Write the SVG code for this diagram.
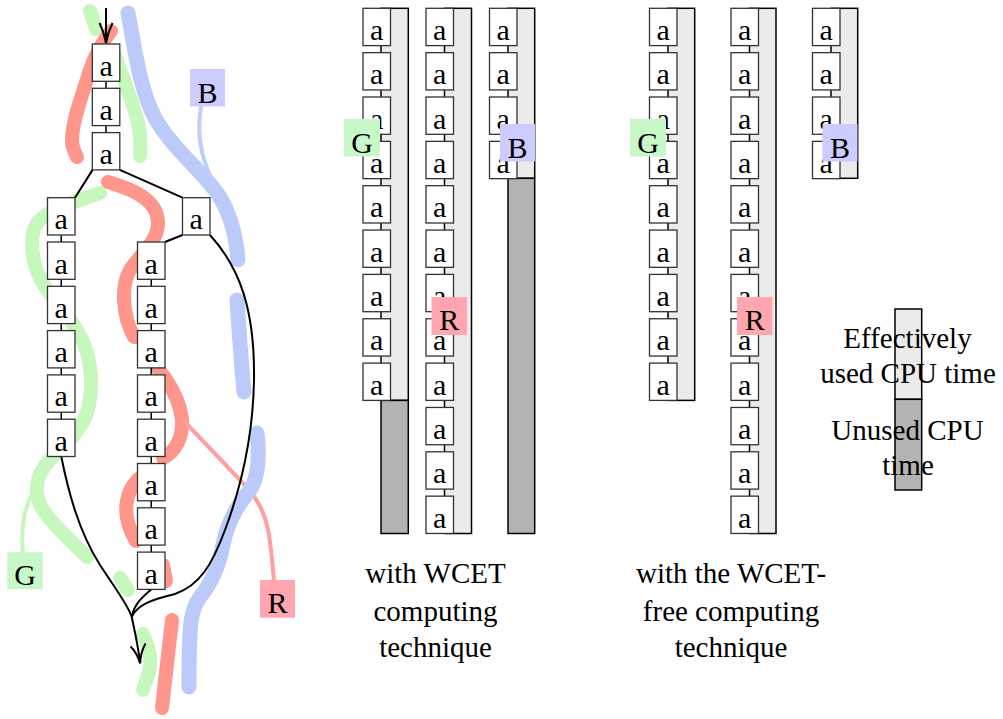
<svg xmlns="http://www.w3.org/2000/svg" width="1003" height="719" viewBox="0 0 1003 719">
<style>
text{font-family:"Liberation Serif","Times New Roman",serif;font-size:29px;fill:#000;text-anchor:middle}
.box{fill:#fff;stroke:#333;stroke-width:1.3}
.box + text,.lbl{font-size:30px}
.lt{fill:#ebebeb;stroke:#000;stroke-width:1.5}
.dk{fill:#b3b3b3;stroke:#000;stroke-width:1.5}
.hg{fill:none;stroke:#c6f7bd;stroke-width:14;stroke-linecap:round}
.hr{fill:none;stroke:#ff968b;stroke-width:14;stroke-linecap:round}
.hb{fill:none;stroke:#bccafa;stroke-width:15;stroke-linecap:round}
.tg{fill:none;stroke:#c6f7bd;stroke-width:4;stroke-linecap:round}
.tr{fill:none;stroke:#ffa0a0;stroke-width:4;stroke-linecap:round}
.tb{fill:none;stroke:#c0ccfc;stroke-width:4;stroke-linecap:round}
.ed{fill:none;stroke:#000;stroke-width:2}
.ln{stroke:#000;stroke-width:1.5}
.lg{fill:#c8f7c8}.lb{fill:#ccccff}.lr{fill:#ffa6b0}
</style>
<defs>
<g id="bx"><rect class="box" x="0" y="0" width="27.5" height="37.3"/><text class="lbl" x="13.75" y="31.5">a</text></g>
</defs>

<!-- highlight strokes (left diagram) -->
<g id="highlights">
<path class="hg" d="M 90 11 L 96 29"/>
<path class="hg" d="M 113 50 C 120 70, 130 95, 136 115 C 141 132, 141 145, 140 156"/>
<path class="hg" d="M 100 193 C 75 202, 50 208, 38 222 C 28 235, 32 262, 40 278 C 50 298, 65 310, 78 332 C 90 352, 95 380, 88 410 C 82 430, 65 445, 50 460 C 35 475, 32 495, 45 513 C 58 530, 75 545, 87 557"/>
<path class="tg" d="M 34 490 C 26 505, 20 522, 23 553"/>
<path class="hg" d="M 120 578 L 128 590"/>
<path class="hg" d="M 143 634 C 150 650, 153 662, 148 675 C 146 682, 144 686, 143 690"/>
<path class="hr" d="M 111 31 C 100 45, 95 55, 90 70 C 84 90, 72 120, 72 140 C 72 148, 75 153, 77 157"/>
<path class="hr" d="M 108 182 C 135 190, 157 200, 158 222 C 159 240, 140 255, 130 270 C 121 285, 122 315, 134 337"/>
<path class="hr" d="M 157 368 C 168 380, 180 400, 182 420 C 183 438, 175 452, 163 458"/>
<path class="hr" d="M 141 477 C 125 490, 120 515, 136 541"/>
<path class="hr" d="M 163 565 L 166 581"/>
<path class="hr" d="M 172 620 L 162 708"/>
<path class="tr" d="M 184 421 L 240 480 C 255 495, 265 510, 269 535 C 272 555, 273 570, 274 582"/>
<path class="hb" d="M 128 13 C 135 50, 140 90, 155 118 C 170 145, 200 170, 215 190 C 230 210, 236 235, 238 260"/>
<path class="tb" d="M 201 107 C 197 130, 200 150, 207 168 C 211 178, 214 184, 217 188"/>
<path class="hb" d="M 237 300 C 239 330, 241 360, 244 392"/>
<path class="hb" d="M 257 433 C 260 460, 258 478, 250 490 C 238 505, 228 520, 223 545 C 218 570, 210 585, 200 597 C 190 610, 189 625, 189 687"/>
</g>

<!-- connectors -->
<g id="connectors">
<path class="ed" d="M 106 8 L 106 42"/>
<path class="ed" d="M 99.5 23 Q 104 32 106 43 Q 108 32 112.5 23"/>
<line class="ln" x1="106" y1="81.3" x2="106" y2="88.3"/>
<line class="ln" x1="106" y1="125.6" x2="106" y2="132.6"/>
<path class="ed" d="M 92.6 169.9 L 75 197.7"/>
<path class="ed" d="M 119.8 169.9 L 182.5 197.7"/>
<path class="ed" d="M 182.5 235 L 165 242"/>
<line class="ln" x1="61.25" y1="235" x2="61.25" y2="242"/>
<line class="ln" x1="61.25" y1="279.3" x2="61.25" y2="286.3"/>
<line class="ln" x1="61.25" y1="323.6" x2="61.25" y2="330.6"/>
<line class="ln" x1="61.25" y1="367.9" x2="61.25" y2="374.9"/>
<line class="ln" x1="61.25" y1="412.2" x2="61.25" y2="419.2"/>
<line class="ln" x1="151.25" y1="279.3" x2="151.25" y2="286.3"/>
<line class="ln" x1="151.25" y1="323.6" x2="151.25" y2="330.6"/>
<line class="ln" x1="151.25" y1="367.9" x2="151.25" y2="374.9"/>
<line class="ln" x1="151.25" y1="412.2" x2="151.25" y2="419.2"/>
<line class="ln" x1="151.25" y1="456.5" x2="151.25" y2="463.5"/>
<line class="ln" x1="151.25" y1="500.8" x2="151.25" y2="507.8"/>
<line class="ln" x1="151.25" y1="545.1" x2="151.25" y2="552.1"/>
<path class="ed" d="M 210 235 C 240 268, 255 310, 254 380 C 253 440, 240 490, 225 530 C 212 565, 200 585, 175 594 C 150 600, 138 605, 131.7 616.7"/>
<path class="ed" d="M 61.25 456.5 C 68 490, 78 530, 100 565 C 115 588, 128 605, 131.7 616.7"/>
<path class="ed" d="M 151.25 589.4 C 145 595, 135 602, 131.7 616.7"/>
<path class="ed" d="M 131.7 616.7 C 134 628, 138 645, 140 662"/>
<path class="ed" d="M 130.5 646.5 Q 136.5 652 140.2 663.5 Q 140.5 652 145.5 643.5"/>
</g>

<!-- left diagram nodes -->
<g id="top-chain">
<use href="#bx" x="92.3" y="44"/>
<use href="#bx" x="92.3" y="88.3"/>
<use href="#bx" x="92.3" y="132.6"/>
</g>
<g id="left-chain">
<use href="#bx" x="47.5" y="197.7"/>
<use href="#bx" x="47.5" y="242"/>
<use href="#bx" x="47.5" y="286.3"/>
<use href="#bx" x="47.5" y="330.6"/>
<use href="#bx" x="47.5" y="374.9"/>
<use href="#bx" x="47.5" y="419.2"/>
</g>
<g id="right-node"><use href="#bx" x="182.5" y="197.7"/></g>
<g id="middle-chain">
<use href="#bx" x="137.5" y="242"/>
<use href="#bx" x="137.5" y="286.3"/>
<use href="#bx" x="137.5" y="330.6"/>
<use href="#bx" x="137.5" y="374.9"/>
<use href="#bx" x="137.5" y="419.2"/>
<use href="#bx" x="137.5" y="463.5"/>
<use href="#bx" x="137.5" y="507.8"/>
<use href="#bx" x="137.5" y="552.1"/>
</g>
<g id="label-B-left"><rect class="lb" x="190" y="69" width="35" height="37.5"/><text class="lbl" x="207.5" y="102.5">B</text></g>
<g id="label-G-left"><rect class="lg" x="7.3" y="552.3" width="35.4" height="37"/><text class="lbl" x="25" y="585">G</text></g>
<g id="label-R-left"><rect class="lr" x="260" y="580" width="35" height="37.7"/><text class="lbl" x="277.5" y="612.7">R</text></g>

<!-- WCET columns -->
<g id="col1">
<rect class="lt" x="381" y="8.3" width="27.3" height="392.1"/>
<rect class="dk" x="381" y="400.4" width="27.3" height="133.1"/>
<use href="#bx" x="363" y="8.3"/><use href="#bx" x="363" y="52.65"/><use href="#bx" x="363" y="97"/>
<use href="#bx" x="363" y="141.35"/><use href="#bx" x="363" y="185.7"/><use href="#bx" x="363" y="230.05"/>
<use href="#bx" x="363" y="274.4"/><use href="#bx" x="363" y="318.75"/><use href="#bx" x="363" y="363.1"/>
</g>
<g id="col2">
<rect class="lt" x="444.5" y="8.3" width="27" height="525.2"/>
<use href="#bx" x="426" y="8.3"/><use href="#bx" x="426" y="52.65"/><use href="#bx" x="426" y="97"/>
<use href="#bx" x="426" y="141.35"/><use href="#bx" x="426" y="185.7"/><use href="#bx" x="426" y="230.05"/>
<use href="#bx" x="426" y="274.4"/><use href="#bx" x="426" y="318.75"/><use href="#bx" x="426" y="363.1"/>
<use href="#bx" x="426" y="407.45"/><use href="#bx" x="426" y="451.8"/><use href="#bx" x="426" y="496.15"/>
</g>
<g id="col3">
<rect class="lt" x="508" y="8.3" width="26.7" height="170"/>
<rect class="dk" x="508" y="178.3" width="26.7" height="355.2"/>
<use href="#bx" x="489.5" y="8.3"/><use href="#bx" x="489.5" y="52.65"/><use href="#bx" x="489.5" y="97"/>
<use href="#bx" x="489.5" y="141.35"/>
</g>
<g id="label-G-1"><rect class="lg" x="344" y="119" width="36" height="37.5"/><text class="lbl" x="362" y="152.5">G</text></g>
<g id="label-B-1"><rect class="lb" x="500" y="124" width="35" height="37.5"/><text class="lbl" x="517.5" y="158">B</text></g>
<g id="label-R-1"><rect class="lr" x="431.5" y="297" width="35.5" height="38"/><text class="lbl" x="449.3" y="330">R</text></g>

<!-- WCET-free columns -->
<g id="col4">
<rect class="lt" x="668" y="8.3" width="26.7" height="392.1"/>
<use href="#bx" x="649.5" y="8.3"/><use href="#bx" x="649.5" y="52.65"/><use href="#bx" x="649.5" y="97"/>
<use href="#bx" x="649.5" y="141.35"/><use href="#bx" x="649.5" y="185.7"/><use href="#bx" x="649.5" y="230.05"/>
<use href="#bx" x="649.5" y="274.4"/><use href="#bx" x="649.5" y="318.75"/><use href="#bx" x="649.5" y="363.1"/>
</g>
<g id="col5">
<rect class="lt" x="749.5" y="8.3" width="26.5" height="525.2"/>
<use href="#bx" x="731" y="8.3"/><use href="#bx" x="731" y="52.65"/><use href="#bx" x="731" y="97"/>
<use href="#bx" x="731" y="141.35"/><use href="#bx" x="731" y="185.7"/><use href="#bx" x="731" y="230.05"/>
<use href="#bx" x="731" y="274.4"/><use href="#bx" x="731" y="318.75"/><use href="#bx" x="731" y="363.1"/>
<use href="#bx" x="731" y="407.45"/><use href="#bx" x="731" y="451.8"/><use href="#bx" x="731" y="496.15"/>
</g>
<g id="col6">
<rect class="lt" x="831" y="8.3" width="26.7" height="170"/>
<use href="#bx" x="812.5" y="8.3"/><use href="#bx" x="812.5" y="52.65"/><use href="#bx" x="812.5" y="97"/>
<use href="#bx" x="812.5" y="141.35"/>
</g>
<g id="label-G-2"><rect class="lg" x="630" y="119" width="36" height="37.5"/><text class="lbl" x="648" y="152.5">G</text></g>
<g id="label-B-2"><rect class="lb" x="822.5" y="124" width="35" height="37.5"/><text class="lbl" x="840" y="158">B</text></g>
<g id="label-R-2"><rect class="lr" x="737" y="297" width="35.5" height="38"/><text class="lbl" x="754.7" y="330">R</text></g>

<!-- captions -->
<g id="caption-1">
<text x="435.5" y="583.3">with WCET</text>
<text x="435.5" y="620.5">computing</text>
<text x="435.5" y="656.7">technique</text>
</g>
<g id="caption-2">
<text x="731" y="583.3">with the WCET-</text>
<text x="731" y="620.5">free computing</text>
<text x="731" y="656.7">technique</text>
</g>

<!-- legend -->
<g id="legend">
<rect class="lt" x="895" y="309" width="26.7" height="90.3"/>
<rect class="dk" x="895" y="399.3" width="26.7" height="90.7"/>
<text x="907.5" y="348.3">Effectively</text>
<text x="908" y="383.3">used CPU time</text>
<text x="907.5" y="440">Unused CPU</text>
<text x="908" y="475">time</text>
</g>
</svg>
